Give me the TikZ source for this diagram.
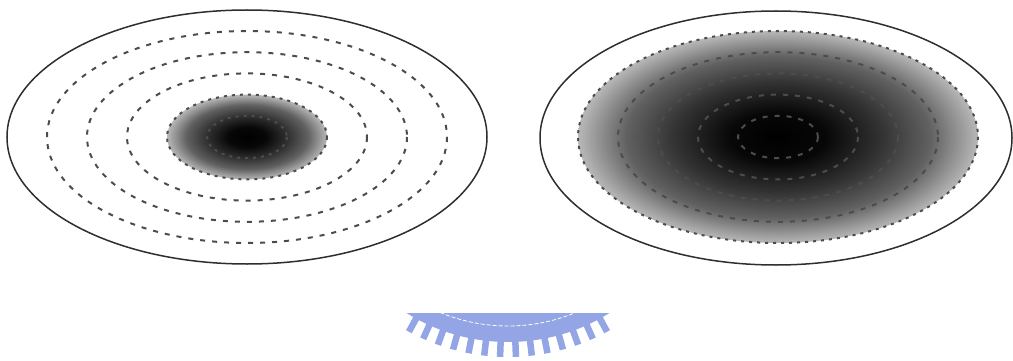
\documentclass[tikz,border=0pt]{standalone}
\usepackage{xcolor}
\usepackage{tikz}
\usetikzlibrary{calc}
\definecolor{ink}{HTML}{2E2E2E}
\definecolor{crest}{HTML}{93A5E4}
\pgfdeclareradialshading{blob}{\pgfpointorigin}{color(0bp)=(black);color(6bp)=(black!97);color(13bp)=(black!80);color(19bp)=(black!62);color(25bp)=(black!28);color(50bp)=(black!28)}
\tikzset{
  rim/.style={draw=ink,line width=1.5pt},
  ring/.style={draw=black!70,line width=2pt,dash pattern=on 5pt off 7pt},
  dotring/.style={draw=black!70,line width=2pt,dash pattern=on 3pt off 5pt},
  tooth/.style={crest,line width=6.5pt},
}

\begin{document}
\begin{tikzpicture}[x=1pt,y=-1pt]
  \def\q{0.53}
  \useasboundingbox (0,0) rectangle (1013,361);
  \coordinate (L) at (247,137);
  \coordinate (R) at (778,137);
  \coordinate (Rrim) at (776,138);
  \coordinate (W) at (508,150);
  % watermark, cut off by the figure above
  \begin{scope}
    \clip (0,313) rectangle (1013,361);
    \fill[crest,even odd rule] (W) circle (192) (W) circle (140);
    \foreach \k in {0,...,13}
      \draw[tooth] (W) ++({61.4+4.4*\k}:190) -- ++({61.4+4.4*\k}:17);
    \draw[white,line width=0.8pt,dash pattern=on 4pt off 2pt] (W) circle (176);
  \end{scope}
  % left: narrow core
  \shade[shading=blob] (L) ellipse [x radius=80,y radius={\q*80}];
  \draw[rim] (L) ellipse [x radius=240,y radius=127];
  \foreach \r in {120,160,200}
    \draw[ring] (L) ellipse [x radius=\r,y radius={\q*\r}];
  \foreach \r in {40,80}
    \draw[dotring] (L) ellipse [x radius=\r,y radius={\q*\r}];
  % right: wide core
  \shade[shading=blob] (R) ellipse [x radius=200,y radius={\q*200}];
  \draw[rim] (Rrim) ellipse [x radius=236,y radius=127];
  \foreach \r in {40,80,120,160}
    \draw[ring] (R) ellipse [x radius=\r,y radius={\q*\r}];
  \draw[dotring] (R) ellipse [x radius=200,y radius={\q*200}];
\end{tikzpicture}
\end{document}
